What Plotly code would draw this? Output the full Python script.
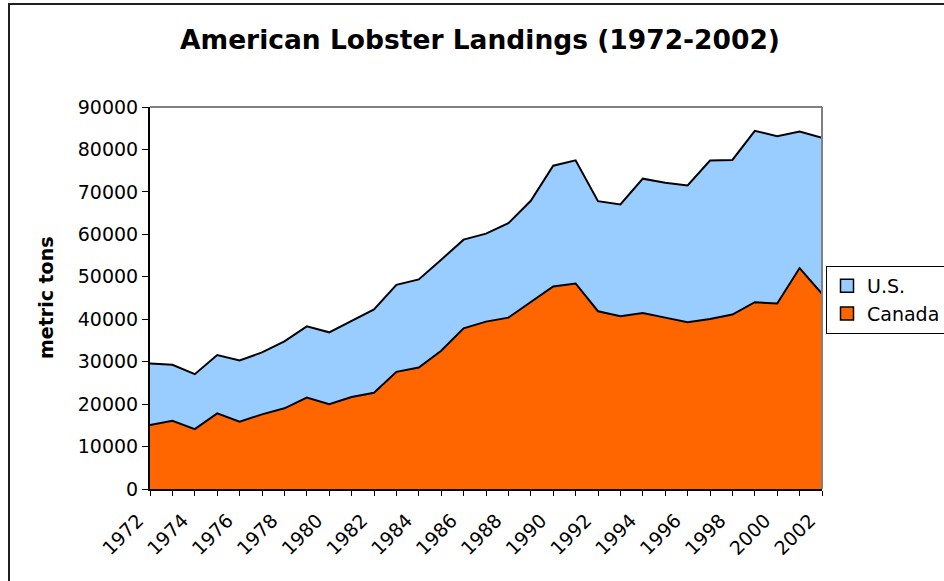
# American Lobster Landings - stacked area chart
import plotly.graph_objects as go

# ----------------------------------------------------------------------------------------------------------------------
# Data
# ----------------------------------------------------------------------------------------------------------------------
years = list(range(1972, 2003))
canada = [15060, 16090, 14120, 17820, 15850, 17590, 19010, 21530, 19950, 21690,
          22670, 27600, 28630, 32570, 37850, 39430, 40380, 44090, 47710, 48420,
          41880, 40690, 41480, 40380, 39270, 40060, 41090, 44010, 43690, 52050,
          45980]
us = [14510, 13170, 12930, 13730, 14430, 14590, 15770, 16800, 16960, 17820,
      19630, 20510, 20740, 21450, 20900, 20740, 22240, 23810, 28470, 29020,
      25940, 26340, 31630, 31780, 32260, 37310, 36430, 40370, 39430, 32180,
      36750]
year_ticks = list(range(1972, 2003, 2))

# ----------------------------------------------------------------------------------------------------------------------
# Figure
# ----------------------------------------------------------------------------------------------------------------------
W, H = 944, 581
L, R, T, B = 150, 122, 107, 92
pw, ph = W - L - R, H - T - B
font = "Verdana, DejaVu Sans, sans-serif"
colors = {"Canada": "#FF6600", "U.S.": "#99CCFF"}

fig = go.Figure()
fig.add_trace(go.Scatter(x=years, y=canada, name="Canada", stackgroup="one", mode="lines",
                         line=dict(color="black", width=2), fillcolor=colors["Canada"],
                         showlegend=False))
fig.add_trace(go.Scatter(x=years, y=us, name="U.S.", stackgroup="one", mode="lines",
                         line=dict(color="black", width=2), fillcolor=colors["U.S."],
                         showlegend=False))

# Legend entries as square swatches
for name in ["U.S.", "Canada"]:
    fig.add_trace(go.Scatter(x=[None], y=[None], name=name, mode="markers",
                             marker=dict(symbol="square", size=13, color=colors[name],
                                         line=dict(color="black", width=1.5))))

fig.update_layout(
    width=W, height=H, margin=dict(l=L, r=R, t=T, b=B, autoexpand=False),
    paper_bgcolor="white", plot_bgcolor="white",
    font=dict(family=font, size=19, color="black"),
    title=dict(text="<b>American Lobster Landings (1972-2002)</b>", x=480 / W, xanchor="center",
               y=1 - 40 / H, yanchor="middle", font=dict(size=26.5)),
    showlegend=True,
    legend=dict(x=(826 - L) / pw, xanchor="left", y=(489 - 266) / ph, yanchor="top",
                traceorder="normal", bordercolor="black", borderwidth=1, font=dict(size=19),
                itemwidth=30, tracegroupgap=0),
)

fig.update_xaxes(range=[1972, 2002], tickvals=year_ticks, ticktext=[str(y) for y in year_ticks],
                 tickangle=-45, ticks="outside", ticklen=5, tickcolor="black",
                 ticklabelshift=-12, ticklabelstandoff=6,
                 minor=dict(dtick=1, ticks="outside", ticklen=5, tickcolor="black"),
                 showline=True, linecolor="black", linewidth=2, showgrid=False, zeroline=False)
fig.update_yaxes(range=[0, 90000], dtick=10000, tickformat="d", ticks="outside", ticklen=6,
                 tickcolor="black", showline=True, linecolor="black", linewidth=2,
                 showgrid=False, zeroline=False)

# Gray top/right plot border and outer chart frame
fig.add_shape(type="line", xref="paper", yref="paper", x0=0, y0=1, x1=1, y1=1,
              line=dict(color="#808080", width=2))
fig.add_shape(type="line", xref="paper", yref="paper", x0=1, y0=0, x1=1, y1=1,
              line=dict(color="#808080", width=2))
fig.add_shape(type="rect", xref="paper", yref="paper",
              x0=(9 - L) / pw, y0=(489 - 600) / ph, x1=(960 - L) / pw, y1=(489 - 4) / ph,
              line=dict(color="#202020", width=2))

# Axis title
fig.add_annotation(text="<b>metric tons</b>", xref="paper", yref="paper",
                   x=(46 - L) / pw, y=(489 - 298) / ph, xanchor="center", yanchor="middle",
                   textangle=-90, showarrow=False, font=dict(size=19))

fig.write_html("out.html", config={"displayModeBar": False},
               post_script="document.body.style.margin='0px';")
